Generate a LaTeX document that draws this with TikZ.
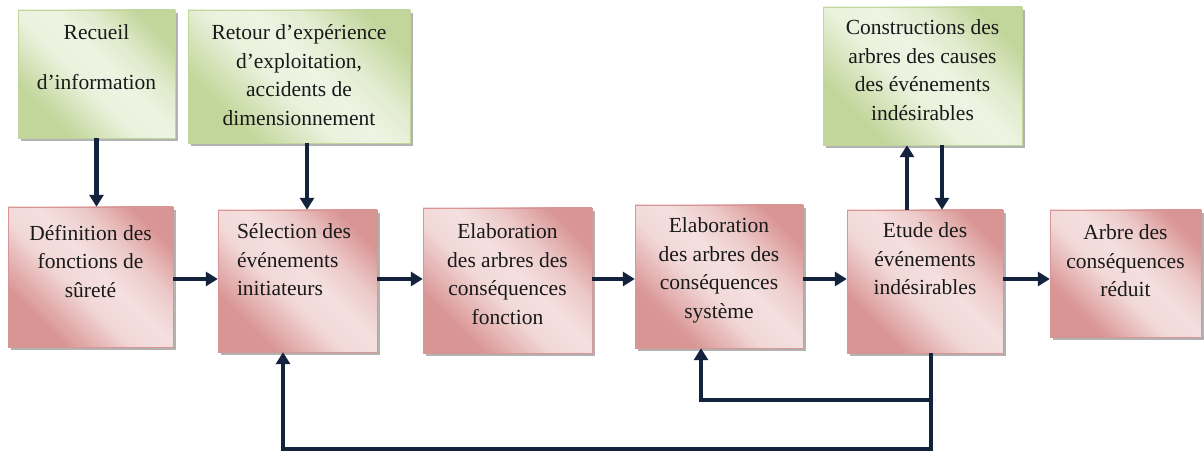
\documentclass[tikz,border=0pt]{standalone}
\usepackage{fontspec}
\setmainfont{Liberation Serif}
\usepackage{tikz}
\usetikzlibrary{arrows.meta,positioning,calc,shadows}

\definecolor{pinkdark}{HTML}{D99594}
\definecolor{pinklight}{HTML}{F4E0DF}
\definecolor{greendark}{HTML}{C2D69B}
\definecolor{greenlight}{HTML}{EEF4E3}
\definecolor{navy}{HTML}{13223D}

\pgfdeclarehorizontalshading{pinkfill}{100bp}{color(0bp)=(pinkdark); color(28bp)=(pinkdark); color(44bp)=(pinklight!90!pinkdark); color(54bp)=(pinklight); color(64bp)=(pinklight!70!pinkdark); color(76bp)=(pinkdark); color(100bp)=(pinkdark)}
\pgfdeclarehorizontalshading{greenfill}{100bp}{color(0bp)=(greendark); color(28bp)=(greendark); color(44bp)=(greenlight!90!greendark); color(54bp)=(greenlight); color(64bp)=(greenlight!70!greendark); color(76bp)=(greendark); color(100bp)=(greendark)}

\begin{document}
\begin{tikzpicture}[x=1pt,y=1pt,
    pinkbox/.style={rectangle,inner sep=0pt,shading=pinkfill,shading angle=45,draw=pinkdark,line width=0.4pt,
      drop shadow={shadow xshift=3pt,shadow yshift=-3pt,fill=black!55,opacity=.55}},
    greenbox/.style={pinkbox,shading=greenfill,draw=greendark},
    txt/.style={inner sep=0pt,align=center,font=\fontsize{21.5}{28.5}\selectfont,text=black!90},
    arr/.style={-{Triangle[length=12pt,width=14pt]},line width=4.2pt,draw=navy}]
  \useasboundingbox[fill=white] (0,0) rectangle (1204,454);
  % Input boxes
  \node[greenbox,minimum width=157pt,minimum height=128pt] (rec) at (96.5,380) {};
  \node[greenbox,minimum width=222pt,minimum height=133pt] (ret) at (299,377.5) {};
  \node[greenbox,minimum width=199pt,minimum height=138pt] (cons) at (922.5,378) {};
  \node[txt,below=15pt of rec.north] (rectxt) {Recueil\\[21pt]d’information};
  \node[txt,below=15pt of ret.north] (rettxt) {Retour d’expérience\\d’exploitation,\\accidents de\\dimensionnement};
  \node[txt,below=13pt of cons.north] (constxt) {Constructions des\\arbres des causes\\des événements\\indésirables};
  % Main chain
  \node[pinkbox,minimum width=165pt,minimum height=140pt] (def) at (90.5,177) {};
  \node[pinkbox,minimum width=159pt,minimum height=142pt] (sel) at (297.5,173) {};
  \node[pinkbox,minimum width=169pt,minimum height=145pt] (ela1) at (507.5,173.5) {};
  \node[pinkbox,minimum width=168pt,minimum height=143pt] (ela2) at (719,177.5) {};
  \node[pinkbox,minimum width=156pt,minimum height=143pt] (etu) at (925,172.5) {};
  \node[pinkbox,minimum width=151pt,minimum height=127pt] (arb) at (1125.5,180.5) {};
  \node[txt,below=18pt of def.north] (deftxt) {Définition des\\fonctions de\\sûreté};
  \node[txt,align=left,below right=14pt and 19pt of sel.north west] (seltxt) {Sélection des\\événements\\initiateurs};
  \node[txt,below=16pt of ela1.north] (ela1txt) {Elaboration\\des arbres des\\conséquences\\fonction};
  \node[txt,below=13pt of ela2.north] (ela2txt) {Elaboration\\des arbres des\\conséquences\\système};
  \node[txt,below=13pt of etu.north] (etutxt) {Etude des\\événements\\indésirables};
  \node[txt,below=15pt of arb.north] (arbtxt) {Arbre des\\conséquences\\réduit};
  % Arrows
  \coordinate (row) at (0,175);
  \draw[arr] (rec.south) -- (rec.south |- def.north);
  \draw[arr] ([xshift=8pt]ret.south) -- ([xshift=8pt]ret.south |- sel.north);
  \draw[arr] (def.east |- row) -- (sel.west |- row);
  \draw[arr] (sel.east |- row) -- (ela1.west |- row);
  \draw[arr] (ela1.east |- row) -- (ela2.west |- row);
  \draw[arr] (ela2.east |- row) -- (etu.west |- row);
  \draw[arr] (etu.east |- row) -- (arb.west |- row);
  \draw[arr] ([xshift=-18pt]etu.north) -- ([xshift=-18pt]etu.north |- cons.south);
  \draw[arr] ([xshift=17pt]etu.north |- cons.south) -- ([xshift=17pt]etu.north);
  % Feedback loops
  \coordinate (lp) at ([xshift=6pt]etu.south);
  \coordinate (innery) at (0,54);
  \coordinate (outery) at (0,5);
  \draw[arr] (lp) -- (lp |- innery) -| ([xshift=-18pt]ela2.south);
  \draw[arr] (lp) -- (lp |- outery) -| ([xshift=-14.5pt]sel.south);
\end{tikzpicture}
\end{document}
